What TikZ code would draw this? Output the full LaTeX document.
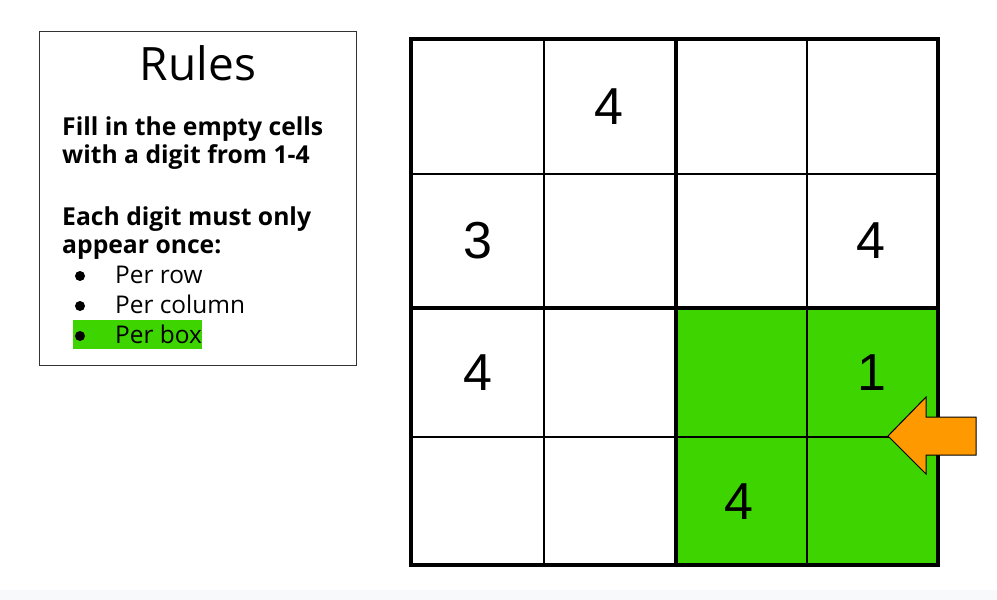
\documentclass[tikz,border=0pt]{standalone}
\usepackage{fontspec}
\setmainfont{Open Sans}
\newfontfamily\digitfont{Liberation Sans}
\definecolor{boxgreen}{RGB}{62,212,0}
\definecolor{arroworange}{RGB}{255,153,0}
\definecolor{footgray}{RGB}{248,249,250}
\begin{document}
\begin{tikzpicture}[x=1pt, y=-1pt,
  digit/.style={font=\digitfont\fontsize{52}{52}\selectfont, inner sep=0pt},
  ruleline/.style={anchor=base west, inner sep=0pt, font=\bfseries\fontsize{24.7}{24.7}\selectfont},
  bulletline/.style={anchor=base west, inner sep=0pt, font=\fontsize{24.4}{24.4}\selectfont}]
  \useasboundingbox (0,0) rectangle (997,600);
  \fill[footgray] (0,590) rectangle (997,600);
  % rules panel
  \node[draw=black!80, line width=1pt, minimum width=317pt, minimum height=334pt,
        anchor=north west, inner sep=0pt] (rules) at (39,31) {};
  \node[font=\fontsize{46}{46}\selectfont, anchor=base, inner sep=0pt] (title) at (198,80) {Rules};
  \node[ruleline] (fill1) at (62,135) {Fill in the empty cells};
  \node[ruleline] (fill2) at (62,163) {with a digit from 1-4};
  \node[ruleline] (each1) at (62,225) {Each digit must only};
  \node[ruleline] (each2) at (62,253) {appear once:};
  \fill[boxgreen] (73,320) rectangle (202,349);
  \foreach \y/\name/\txt in {283/row/Per row, 313/column/Per column, 343/box/Per box} {
    \fill (80,\y-7) circle (5);
    \node[bulletline] (\name) at (115,\y) {\txt};
  }
  % grid
  \fill[boxgreen] (676,308) rectangle (938,565);
  \foreach \x in {544,807} \draw[line width=1.5] (\x,39) -- (\x,565);
  \foreach \y in {174,437} \draw[line width=1.5] (411,\y) -- (938,\y);
  \draw[line width=3.5] (676,39) -- (676,565);
  \draw[line width=3.5] (411,308) -- (938,308);
  \draw[line width=3.5] (411,39) rectangle (938,565);
  % givens
  \node[digit] (c12) at (609,107) {4};
  \node[digit] (c21) at (478,241) {3};
  \node[digit] (c24) at (871,241) {4};
  \node[digit] (c31) at (478,373) {4};
  \node[digit] (c34) at (872,373) {1};
  \node[digit] (c43) at (739,502) {4};
  % pointer
  \draw[fill=arroworange, line width=1] (888,436) -- (926,397) -- (926,417) -- (976,417)
    -- (976,455) -- (926,455) -- (926,474) -- cycle;
\end{tikzpicture}
\end{document}
